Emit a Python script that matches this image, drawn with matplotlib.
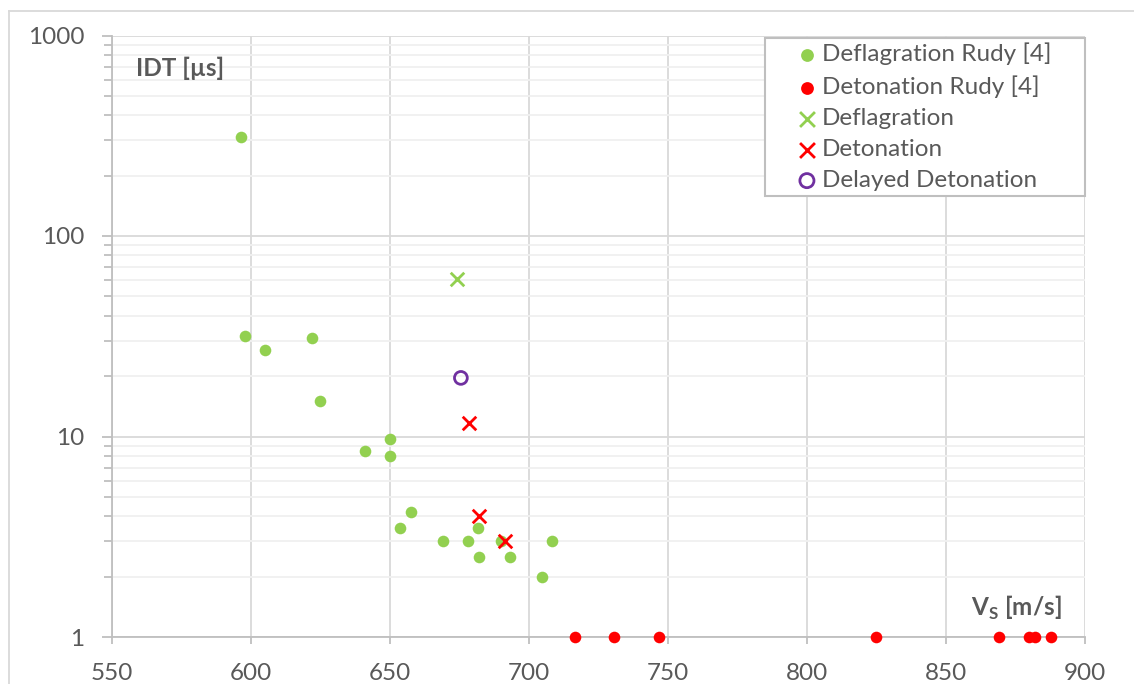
import matplotlib
matplotlib.use("Agg")
import matplotlib.pyplot as plt
from matplotlib.lines import Line2D
from matplotlib.ticker import LogLocator, NullFormatter, FixedLocator, FixedFormatter

plt.rcParams['font.family'] = ['Lato', 'DejaVu Sans']

# Data
defl_rudy_v = [596.4, 597.8, 605, 622, 625, 641, 650, 650, 653.6, 657.6,
               669, 678, 681.6, 682, 690, 693, 704.7, 708.3]
defl_rudy_idt = [310, 31.6, 27, 31, 15, 8.45, 9.7, 8.0, 3.5, 4.2,
                 3.0, 3.0, 3.5, 2.5, 3.0, 2.5, 2.0, 3.0]
det_rudy_v = [716.5, 730.6, 746.8, 824.8, 869, 880, 882, 887.8]
det_rudy_idt = [1, 1, 1, 1, 1, 1, 1, 1]
defl_v = [674]
defl_idt = [61]
det_v = [678.4, 682, 691.4]
det_idt = [11.7, 4.0, 3.0]
delayed_v = [675.5]
delayed_idt = [19.6]

x_ticks = [550, 600, 650, 700, 750, 800, 850, 900]
y_ticks = [1, 10, 100, 1000]
y_labels = ["1", "10", "100", "1000"]
legend_labels = ["Deflagration Rudy [4]", "Detonation Rudy [4]", "Deflagration",
                 "Detonation", "Delayed Detonation"]

green = "#92D050"
red = "#FF0000"
purple = "#7030A0"
txt = "#595959"
fs = 17.5

fig = plt.figure(figsize=(11.34, 6.84), dpi=100)
ax = fig.add_axes([112/1134, 1 - 637/684, (1085-112)/1134, (637-35.5)/684])

ax.set_yscale('log')
ax.set_xlim(550, 900)
ax.set_ylim(1, 1000)

ax.xaxis.set_major_locator(FixedLocator(x_ticks))
ax.yaxis.set_major_locator(FixedLocator(y_ticks))
ax.yaxis.set_major_formatter(FixedFormatter(y_labels))
ax.yaxis.set_minor_locator(LogLocator(base=10, subs=range(2, 10)))
ax.yaxis.set_minor_formatter(NullFormatter())

ax.grid(True, which='major', axis='both', color='#d9d9d9', linewidth=1.3, zorder=0)
ax.grid(True, which='minor', axis='y', color='#f0f0f0', linewidth=1.3, zorder=0)
ax.set_axisbelow(True)

for s in ['top', 'right']:
    ax.spines[s].set_visible(False)
for s in ['left', 'bottom']:
    ax.spines[s].set_color('#bfbfbf')
    ax.spines[s].set_linewidth(1.3)

ax.tick_params(axis='x', which='major', direction='out', length=5, width=1.3,
               color='#bfbfbf', labelsize=fs, labelcolor=txt, pad=13.5)
ax.tick_params(axis='y', which='major', direction='out', length=7, width=1.3,
               color='#bfbfbf', labelsize=fs, labelcolor=txt, pad=13)
ax.tick_params(axis='y', which='minor', direction='out', length=6, width=1.3,
               color='#bfbfbf')

ms = 70
ax.scatter(defl_rudy_v, defl_rudy_idt, s=ms, color=green, linewidths=0, zorder=3,
           label=legend_labels[0], clip_on=False)
ax.scatter(det_rudy_v, det_rudy_idt, s=ms, color=red, linewidths=0, zorder=3,
           label=legend_labels[1], clip_on=False)
ax.scatter(defl_v, defl_idt, s=95, marker='x', color=green, linewidths=2, zorder=3,
           label=legend_labels[2])
ax.scatter(det_v, det_idt, s=95, marker='x', color=red, linewidths=2, zorder=3,
           label=legend_labels[3])
ax.scatter(delayed_v, delayed_idt, s=85, marker='o', facecolors='none',
           edgecolors=purple, linewidths=2, zorder=3, label=legend_labels[4])

x0 = (765 - 112) / 973
top = (637 - 38) / 601.5
leg = ax.legend(loc='upper left', bbox_to_anchor=(x0, top - 0.3, 1.0 - x0, 0.3),
                mode='expand', fontsize=fs, markerscale=1.1,
                frameon=True, fancybox=False, edgecolor='#bfbfbf', framealpha=1,
                handletextpad=-0.9, labelspacing=0.41, borderpad=0.2,
                handlelength=3.05, borderaxespad=0)
leg.get_frame().set_linewidth(1.5)
for t in leg.get_texts():
    t.set_color(txt)

ax.text(0.025, 0.945, "IDT [µs]", transform=ax.transAxes, fontsize=fs,
        fontweight='bold', color=txt, ha='left', va='center')
ax.text(0.976, 0.048, r"V$_\mathregular{S}$ [m/s]", transform=ax.transAxes,
        fontsize=fs, fontweight='bold', color=txt, ha='right', va='center')

# outer chart border
fig.add_artist(Line2D([9/1134, 9/1134], [0, 1 - 10.5/684], color='#d9d9d9',
                      linewidth=1.3, transform=fig.transFigure))
fig.add_artist(Line2D([9/1134, 1], [1 - 10.5/684, 1 - 10.5/684], color='#d9d9d9',
                      linewidth=1.3, transform=fig.transFigure))

fig.savefig("out.png", dpi=100, facecolor='white')
